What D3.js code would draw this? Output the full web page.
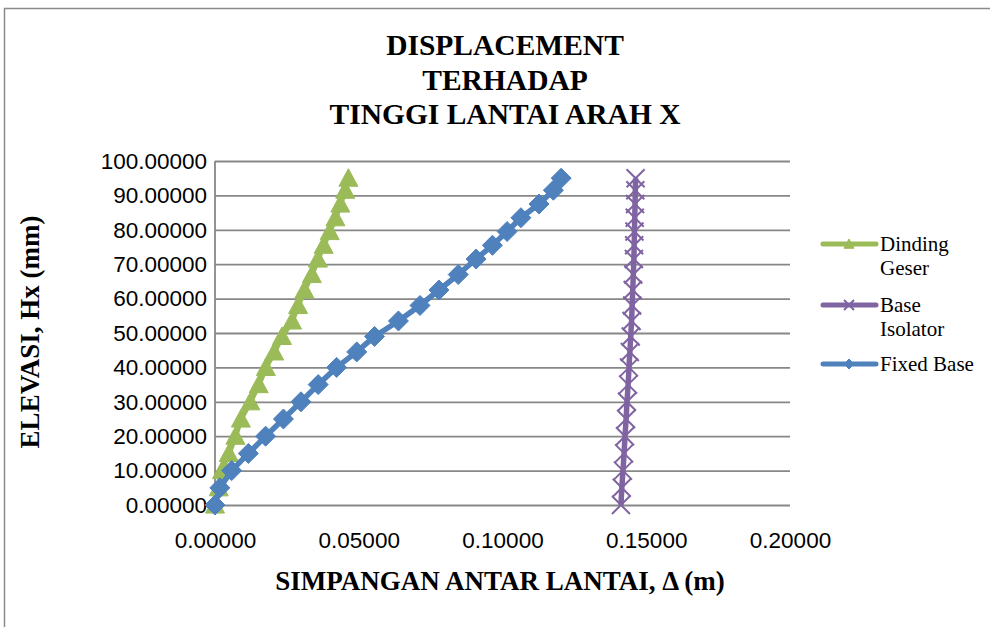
<!DOCTYPE html>
<html>
<head>
<meta charset="utf-8">
<script src="https://cdn.jsdelivr.net/npm/d3@7"></script>
<style>
  body { margin: 0; background: #fff; }
  svg { display: block; }
  .tick-label { font-family: "Liberation Sans", Arial, sans-serif; font-size: 22.5px; fill: #000; }
  .serif { font-family: "Liberation Serif", "Times New Roman", serif; fill: #000; }
</style>
</head>
<body>
<div id="chart"></div>
<script>
// elevation levels (mm on the axis)
const levels = [0, 5, 10, 15, 20, 25, 30, 35, 40, 44.5, 49, 53.5, 58, 62.5, 67, 71.5, 75.5, 79.5, 83.5, 87.5, 91.5, 95];

// displacement (m) per level
const dindingGeser = [0.0000, 0.0013, 0.0024, 0.0048, 0.0071, 0.0090, 0.0123, 0.0152, 0.0177, 0.0206, 0.0233,
  0.0268, 0.0289, 0.0311, 0.0337, 0.0358, 0.0378, 0.0399, 0.0419, 0.0436, 0.0453, 0.0464];
const baseIsolator = [0.1412, 0.1415, 0.1419, 0.1423, 0.1426, 0.1430, 0.1433, 0.1437, 0.1440, 0.1443, 0.1446,
  0.1449, 0.1451, 0.1453, 0.1455, 0.1457, 0.1458, 0.1459, 0.1460, 0.1461, 0.1462, 0.1463];
const fixedBase = [0.0000, 0.0017, 0.0058, 0.0116, 0.0176, 0.0238, 0.0299, 0.0359, 0.0423, 0.0493, 0.0555,
  0.0638, 0.0713, 0.0779, 0.0846, 0.0908, 0.0965, 0.1016, 0.1064, 0.1127, 0.1177, 0.1204];

const xTicks = [0, 0.05, 0.10, 0.15, 0.20];
const yTicks = [0, 10, 20, 30, 40, 50, 60, 70, 80, 90, 100];

const titleLines = ["DISPLACEMENT", "TERHADAP", "TINGGI LANTAI ARAH X"];
const xTitle = "SIMPANGAN ANTAR LANTAI, Δ (m)";
const yTitle = "ELEVASI, Hx (mm)";

const series = [
  {name: ["Dinding", "Geser"], values: dindingGeser, color: "#9BBB59", marker: "triangle"},
  {name: ["Base", "Isolator"], values: baseIsolator, color: "#8064A2", marker: "x"},
  {name: ["Fixed Base"], values: fixedBase, color: "#4F81BD", marker: "diamond"}
];

const width = 990, height = 627;
const plot = {left: 215, right: 790, top: 161, bottom: 505};

const svg = d3.select("#chart").append("svg")
  .attr("width", width)
  .attr("height", height);

// outer chart border (only top and left visible)
svg.append("path")
  .attr("d", `M4.5,${height} L4.5,8.5 L${width},8.5`)
  .attr("fill", "none")
  .attr("stroke", "#8a8a8a")
  .attr("stroke-width", 1.5);

const xScale = d3.scaleLinear().domain([0, 0.2]).range([plot.left, plot.right]);
const yScale = d3.scaleLinear().domain([0, 100]).range([plot.bottom, plot.top]);

// gridlines + y labels
const yAxis = d3.axisLeft(yScale)
  .tickValues(yTicks)
  .tickSize(-(plot.right - plot.left))
  .tickPadding(8)
  .tickFormat(d3.format(".5f"));

const yAxisG = svg.append("g")
  .attr("transform", `translate(${plot.left},0)`)
  .call(yAxis);
yAxisG.select(".domain").remove();
yAxisG.selectAll(".tick line").attr("stroke", "#878787").attr("stroke-width", 1.8);
yAxisG.selectAll(".tick text").attr("class", "tick-label").attr("font-family", null).attr("font-size", null);

// vertical axis line
svg.append("line")
  .attr("x1", plot.left).attr("x2", plot.left)
  .attr("y1", plot.top).attr("y2", plot.bottom)
  .attr("stroke", "#878787").attr("stroke-width", 1.8);

const xAxis = d3.axisBottom(xScale)
  .tickValues(xTicks)
  .tickSize(0)
  .tickPadding(27)
  .tickFormat(d3.format(".5f"));

const xAxisG = svg.append("g")
  .attr("transform", `translate(0,${plot.bottom})`)
  .call(xAxis);
xAxisG.select(".domain").remove();
xAxisG.selectAll(".tick text").attr("class", "tick-label").attr("font-family", null).attr("font-size", null);

// marker shapes
function markerPath(type, s) {
  if (type === "diamond") return `M0,${-s}L${s},0L0,${s}L${-s},0Z`;
  if (type === "triangle") return `M0,${-s}L${s},${s * 0.85}L${-s},${s * 0.85}Z`;
  return `M${-s},${-s}L${s},${s}M${-s},${s}L${s},${-s}`;
}

const markerSize = {diamond: 10, triangle: 9.5, x: 9};

const line = d3.line()
  .x(d => xScale(d.x))
  .y(d => yScale(d.y));

series.forEach(s => {
  const pts = levels.map((y, i) => ({x: s.values[i], y: y}));
  const g = svg.append("g");
  g.append("path")
    .datum(pts)
    .attr("d", line)
    .attr("fill", "none")
    .attr("stroke", s.color)
    .attr("stroke-width", 5.5)
    .attr("stroke-linejoin", "round");
  g.selectAll(".mk")
    .data(pts)
    .join("path")
    .attr("class", "mk")
    .attr("transform", d => `translate(${xScale(d.x)},${yScale(d.y)})`)
    .attr("d", markerPath(s.marker, markerSize[s.marker]))
    .attr("fill", s.marker === "x" ? "none" : s.color)
    .attr("stroke", s.color)
    .attr("stroke-width", s.marker === "x" ? 2 : 1);
});

// title
svg.append("text")
  .attr("class", "serif")
  .attr("x", 505)
  .attr("y", 55)
  .attr("text-anchor", "middle")
  .attr("font-size", "29.5px")
  .attr("font-weight", "bold")
  .selectAll("tspan")
  .data(titleLines)
  .join("tspan")
  .attr("x", 505)
  .attr("dy", (d, i) => i === 0 ? 0 : 34.5)
  .text(d => d);

// axis titles
svg.append("text")
  .attr("class", "serif")
  .attr("x", 500)
  .attr("y", 590)
  .attr("text-anchor", "middle")
  .attr("font-size", "27px")
  .attr("font-weight", "bold")
  .text(xTitle);

svg.append("text")
  .attr("class", "serif")
  .attr("transform", "translate(39,332) rotate(-90)")
  .attr("text-anchor", "middle")
  .attr("font-size", "27px")
  .attr("font-weight", "bold")
  .text(yTitle);

// legend
const legendY = [244, 305, 364];
const legend = svg.append("g");
series.forEach((s, i) => {
  const g = legend.append("g").attr("transform", `translate(0,${legendY[i]})`);
  g.append("line")
    .attr("x1", 823).attr("x2", 876)
    .attr("stroke", s.color)
    .attr("stroke-width", 5)
    .attr("stroke-linecap", "round");
  g.append("path")
    .attr("transform", "translate(849,0)")
    .attr("d", markerPath(s.marker, 5))
    .attr("fill", s.marker === "x" ? "none" : s.color)
    .attr("stroke", s.color)
    .attr("stroke-width", s.marker === "x" ? 2 : 1);
  g.append("text")
    .attr("class", "serif")
    .attr("x", 880)
    .attr("y", 7)
    .attr("font-size", "21px")
    .selectAll("tspan")
    .data(s.name)
    .join("tspan")
    .attr("x", 880)
    .attr("dy", (d, j) => j === 0 ? 0 : 24)
    .text(d => d);
});
</script>
</body>
</html>
